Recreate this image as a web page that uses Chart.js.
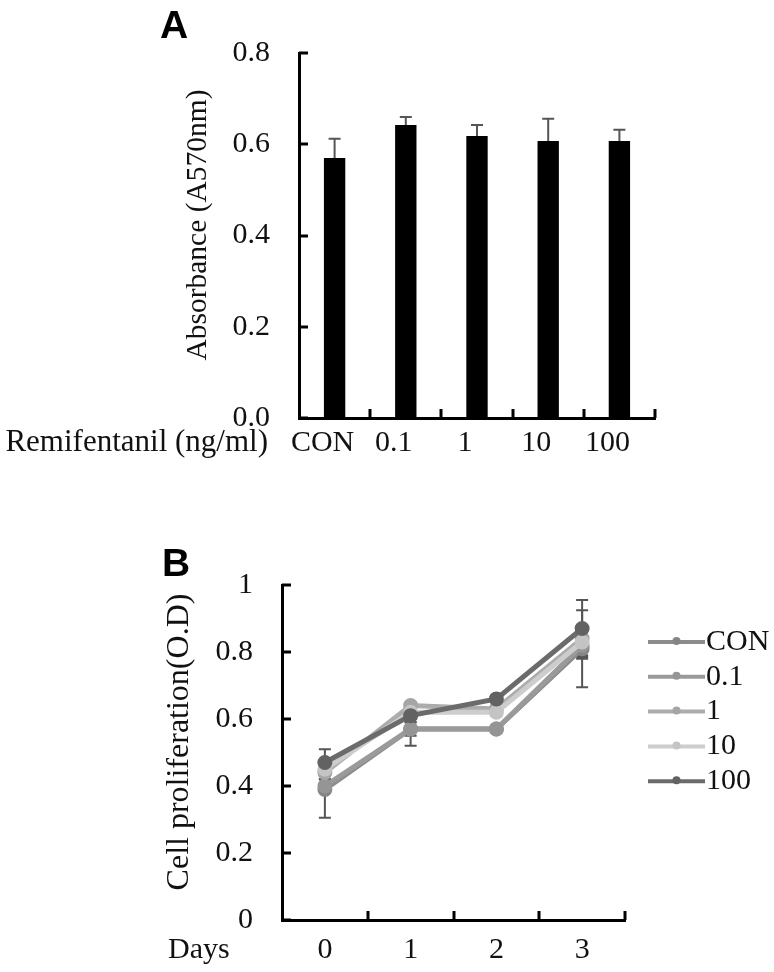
<!DOCTYPE html>
<html>
<head>
<meta charset="utf-8">
<script src="https://cdn.jsdelivr.net/npm/chart.js@4.4.1/dist/chart.umd.min.js"></script>
<style>
  body { margin: 0; background: #fff; }
  #wrap { position: relative; width: 774px; height: 972px; }
  .panel { position: absolute; left: 0; width: 774px; }
  .tag { position: absolute; font: bold 39px "Liberation Sans", Arial, sans-serif; line-height: 1; color: #000; }
</style>
</head>
<body>
<div id="wrap">
  <div class="panel" style="top:0;height:480px"><canvas id="chartA"></canvas></div>
  <div class="panel" style="top:480px;height:492px"><canvas id="chartB"></canvas></div>
  <div class="tag" style="left:160px;top:5px">A</div>
  <div class="tag" style="left:162px;top:543px">B</div>
</div>
<script>
// ---------------- DATA ----------------
// panel A: absorbance per remifentanil dose
const doses = ["CON", "0.1", "1", "10", "100"];
const absorbance = [0.57, 0.642, 0.618, 0.607, 0.607];
const absorbanceErr = [0.042, 0.018, 0.024, 0.049, 0.025];
const yTicksA = [0, 0.2, 0.4, 0.6, 0.8];

// panel B: proliferation over days
const days = ["0", "1", "2", "3"];
const seriesNames = ["CON", "0.1", "1", "10", "100"];
const conOD = [0.39, 0.57, 0.57, 0.81];
const dose01OD = [0.40, 0.57, 0.57, 0.82];
const dose1OD = [0.44, 0.64, 0.63, 0.84];
const dose10OD = [0.45, 0.62, 0.62, 0.83];
const dose100OD = [0.47, 0.61, 0.66, 0.87];
const conErr = [0.085, 0.05, 0.01, 0.115];
const dose01Err = [0.02, 0.02, 0.01, 0.03];
const dose1Err = [0.02, 0.01, 0.01, 0.02];
const dose10Err = [0.02, 0.02, 0.01, 0.05];
const dose100Err = [0.04, 0.02, 0.01, 0.085];
const yTicksB = [0, 0.2, 0.4, 0.6, 0.8, 1];

// ---------------- STYLE ----------------
const serif = '"Liberation Serif", "Times New Roman", serif';
const lineColors = ["#8c8c8c", "#9a9a9a", "#acacac", "#cdcdcd", "#6b6b6b"];
const markColors = ["#858585", "#959595", "#a5a5a5", "#c4c4c4", "#626262"];

// inward tick marks + free-standing texts (axis titles, row caption)
const axisDeco = {
  id: "axisDeco",
  afterDraw(chart, args, opts) {
    const { ctx, chartArea: area } = chart;
    const x = chart.scales.x, y = chart.scales.y;
    ctx.save();
    ctx.strokeStyle = "#000";
    ctx.lineWidth = 3;
    ctx.beginPath();
    y.ticks.forEach((t, i) => {
      const py = Math.round(y.getPixelForTick(i));
      ctx.moveTo(area.left, py);
      ctx.lineTo(area.left + 9, py);
    });
    x.ticks.forEach((t, i) => {
      const px = Math.round(x.getPixelForValue(i + 0.5));
      ctx.moveTo(px, area.bottom);
      ctx.lineTo(px, area.bottom - 9);
    });
    ctx.stroke();

    ctx.fillStyle = "#111";
    ctx.textBaseline = "middle";
    ctx.font = opts.titleSize + "px " + serif;
    ctx.save();
    ctx.translate(opts.titleX, opts.titleY);
    ctx.rotate(-Math.PI / 2);
    ctx.textAlign = "center";
    ctx.fillText(opts.title, 0, 0);
    ctx.restore();

    ctx.font = opts.rowSize + "px " + serif;
    ctx.textAlign = opts.rowAlign;
    ctx.fillText(opts.rowText, opts.rowX, opts.rowY);
    ctx.restore();
  }
};

// error bars read from dataset.errors
const errorBars = {
  id: "errorBars",
  beforeDatasetsDraw(chart, args, opts) { if (opts.behind) drawErrors(chart, opts); },
  afterDatasetsDraw(chart, args, opts) { if (!opts.behind) drawErrors(chart, opts); }
};

function drawErrors(chart, opts) {
  const { ctx } = chart;
  const y = chart.scales.y;
  ctx.save();
  ctx.strokeStyle = opts.color;
  ctx.lineWidth = opts.width;
  chart.data.datasets.forEach((ds, di) => {
    if (!ds.errors) return;
    const meta = chart.getDatasetMeta(di);
    meta.data.forEach((el, i) => {
      const v = ds.data[i], e = ds.errors[i];
      const top = y.getPixelForValue(v + e);
      const bot = opts.upOnly ? y.getPixelForValue(v) : y.getPixelForValue(v - e);
      ctx.beginPath();
      ctx.moveTo(el.x, top);
      ctx.lineTo(el.x, bot);
      ctx.moveTo(el.x - opts.cap, top);
      ctx.lineTo(el.x + opts.cap, top);
      if (!opts.upOnly) {
        ctx.moveTo(el.x - opts.cap, bot);
        ctx.lineTo(el.x + opts.cap, bot);
      }
      ctx.stroke();
    });
  });
  ctx.restore();
}

// legend: thick line with a marker, label on the right
const lineLegend = {
  id: "lineLegend",
  afterDraw(chart, args, opts) {
    const { ctx } = chart;
    ctx.save();
    ctx.font = opts.size + "px " + serif;
    ctx.textBaseline = "middle";
    ctx.textAlign = "left";
    chart.data.datasets.forEach((ds, i) => {
      const yy = opts.top + i * opts.gap;
      ctx.strokeStyle = ds.borderColor;
      ctx.lineWidth = 4;
      ctx.beginPath();
      ctx.moveTo(opts.left, yy);
      ctx.lineTo(opts.left + opts.len, yy);
      ctx.stroke();
      ctx.fillStyle = ds.pointBackgroundColor;
      ctx.beginPath();
      ctx.arc(opts.left + opts.len / 2, yy - 1, 4, 0, Math.PI * 2);
      ctx.fill();
      ctx.fillStyle = "#111";
      ctx.fillText(ds.label, opts.left + opts.len + 1, yy);
    });
    ctx.restore();
  }
};

const tickFont = { family: serif, size: 30 };

// ---------------- PANEL A ----------------
new Chart(document.getElementById("chartA"), {
  type: "bar",
  data: {
    labels: doses,
    datasets: [{
      data: absorbance,
      errors: absorbanceErr,
      backgroundColor: "#000",
      barPercentage: 0.3,
      categoryPercentage: 1
    }]
  },
  options: {
    responsive: true,
    maintainAspectRatio: false,
    animation: false,
    layout: { padding: { left: 0, right: 119, top: 53, bottom: 0 } },
    plugins: {
      legend: { display: false },
      tooltip: { enabled: false },
      errorBars: { behind: false, upOnly: true, color: "#555", width: 2, cap: 6 },
      axisDeco: {
        title: "Absorbance (A570nm)", titleSize: 29.5, titleX: 198, titleY: 225,
        rowText: "Remifentanil (ng/ml)", rowSize: 31, rowAlign: "right", rowX: 268, rowY: 443
      }
    },
    scales: {
      x: {
        grid: { display: false, drawTicks: false },
        border: { display: true, color: "#000", width: 3 },
        ticks: { font: tickFont, color: "#111", padding: 7, labelOffset: -12 },
        afterFit: s => { s.height = 62; }
      },
      y: {
        min: 0,
        max: 0.8,
        afterBuildTicks: s => { s.ticks = yTicksA.map(v => ({ value: v })); },
        grid: { display: false, drawTicks: false },
        border: { display: true, color: "#000", width: 3 },
        ticks: { font: tickFont, color: "#111", padding: 29, callback: v => v.toFixed(1) },
        afterFit: s => { s.width = 299; }
      }
    }
  },
  plugins: [axisDeco, errorBars]
});

// ---------------- PANEL B ----------------
const odSeries = [conOD, dose01OD, dose1OD, dose10OD, dose100OD];
const odErrors = [conErr, dose01Err, dose1Err, dose10Err, dose100Err];

new Chart(document.getElementById("chartB"), {
  type: "line",
  data: {
    labels: days,
    datasets: seriesNames.map((name, i) => ({
      label: name,
      data: odSeries[i],
      errors: odErrors[i],
      borderColor: lineColors[i],
      backgroundColor: lineColors[i],
      pointBackgroundColor: markColors[i],
      pointBorderColor: markColors[i],
      borderWidth: 5,
      pointRadius: 5,
      tension: 0,
      order: i === 4 ? 0 : 5 - i
    }))
  },
  options: {
    responsive: true,
    maintainAspectRatio: false,
    animation: false,
    layout: { padding: { left: 0, right: 149, top: 105, bottom: 0 } },
    plugins: {
      legend: { display: false },
      tooltip: { enabled: false },
      errorBars: { behind: true, upOnly: false, color: "#555", width: 2, cap: 6 },
      lineLegend: { left: 648, len: 57, top: 162, gap: 34.8, size: 30 },
      axisDeco: {
        title: "Cell proliferation(O.D)", titleSize: 32, titleX: 180, titleY: 262,
        rowText: "Days", rowSize: 30, rowAlign: "left", rowX: 168, rowY: 470
      }
    },
    scales: {
      x: {
        offset: true,
        grid: { display: false, drawTicks: false, offset: true },
        border: { display: true, color: "#000", width: 3 },
        ticks: { font: tickFont, color: "#111", padding: 12 },
        afterFit: s => { s.height = 52; }
      },
      y: {
        min: 0,
        max: 1,
        afterBuildTicks: s => { s.ticks = yTicksB.map(v => ({ value: v })); },
        grid: { display: false, drawTicks: false },
        border: { display: true, color: "#000", width: 3 },
        ticks: { font: tickFont, color: "#111", padding: 29, callback: v => String(+v.toFixed(1)) },
        afterFit: s => { s.width = 282; }
      }
    }
  },
  plugins: [axisDeco, errorBars, lineLegend]
});
</script>
</body>
</html>
